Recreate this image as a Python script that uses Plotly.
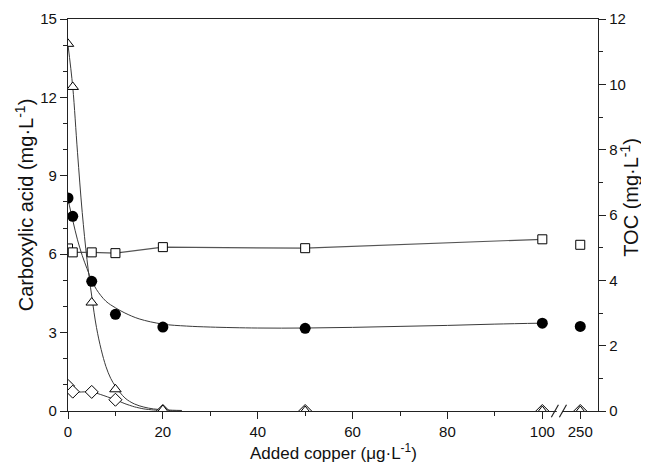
import plotly.graph_objects as go

# ---------------- data ----------------
copper = [0, 1, 5, 10, 20, 50, 100, 250]          # added copper, ug/L

# Carboxylic acids (left axis, mg/L)
acid_triangle = [14.05, 12.4, 4.15, 0.83, 0.04, 0.0, 0.0, 0.0]
acid_diamond  = [0.96, 0.74, 0.73, 0.43, 0.0, 0.0, 0.0, 0.0]
acid_square   = [6.22, 6.07, 6.07, 6.04, 6.27, 6.23, 6.57, 6.36]

# TOC (right axis, mg/L)
toc_circle = [6.52, 5.96, 3.97, 2.96, 2.57, 2.53, 2.69, 2.59]

# fitted curves
tri_fit_x = [0, 1, 2, 3, 4, 5, 6, 7, 8, 9, 10, 12, 14, 16, 18, 20, 22, 24]
tri_fit_y = [14.0, 12.4, 9.9, 7.6, 5.8, 4.4, 3.2, 2.35, 1.7, 1.25, 0.95, 0.5, 0.27, 0.15, 0.08, 0.05, 0.03, 0.02]

dia_fit_x = [0, 1, 5, 10, 12, 14, 16, 18, 20, 22, 24]
dia_fit_y = [0.96, 0.74, 0.73, 0.43, 0.28, 0.16, 0.08, 0.04, 0.02, 0.01, 0.0]

toc_fit_x = [0, 1, 2, 3, 4, 5, 6, 8, 10, 12, 15, 20, 25, 30, 40, 50, 60, 70, 80, 90, 100]
toc_fit_y = [6.48, 5.84, 5.24, 4.76, 4.36, 4.0, 3.72, 3.36, 3.16, 3.0, 2.82, 2.66, 2.6, 2.57, 2.54, 2.54, 2.56, 2.59, 2.62, 2.66, 2.69]

x_tick_labels = ["0", "20", "40", "60", "80", "100", "250"]

# ---------------- broken x-axis mapping ----------------
BREAK_AT = 100
POS_250 = 108.0
X_MAX = 111.74
BREAK_POS = 103.6


def xpos(v):
    return v if v <= BREAK_AT else POS_250


xp = [xpos(v) for v in copper]
tick_pos = [0, 20, 40, 60, 80, 100, POS_250]

LINE = "#3a3a3a"
fig = go.Figure()

# curves / lines
fig.add_trace(go.Scatter(x=tri_fit_x, y=tri_fit_y, mode="lines", line=dict(color=LINE, width=1, shape="spline"),
                         yaxis="y", hoverinfo="skip", showlegend=False))
fig.add_trace(go.Scatter(x=dia_fit_x, y=dia_fit_y, mode="lines", line=dict(color=LINE, width=1, shape="spline", smoothing=0.6),
                         yaxis="y", hoverinfo="skip", showlegend=False))
fig.add_trace(go.Scatter(x=toc_fit_x, y=toc_fit_y, mode="lines", line=dict(color=LINE, width=1, shape="spline"),
                         yaxis="y2", hoverinfo="skip", showlegend=False))
fig.add_trace(go.Scatter(x=xp[:7], y=acid_square[:7], mode="lines", line=dict(color="#555555", width=1.2),
                         yaxis="y", hoverinfo="skip", showlegend=False))

mk = dict(color="white", line=dict(color="black", width=1))
fig.add_trace(go.Scatter(x=xp, y=acid_square, mode="markers", yaxis="y", showlegend=False, cliponaxis=True,
                         marker=dict(symbol="square", size=9, **mk)))
fig.add_trace(go.Scatter(x=xp, y=acid_diamond, mode="markers", yaxis="y", showlegend=False, cliponaxis=True,
                         marker=dict(symbol="diamond", size=10, **mk)))
fig.add_trace(go.Scatter(x=xp, y=acid_triangle, mode="markers", yaxis="y", showlegend=False, cliponaxis=True,
                         marker=dict(symbol="triangle-up", size=10, **mk)))
fig.add_trace(go.Scatter(x=xp, y=toc_circle, mode="markers", yaxis="y2", showlegend=False, cliponaxis=True,
                         marker=dict(symbol="circle", size=11, color="black", line=dict(color="black", width=0))))

FONT = "Liberation Sans, Arial, sans-serif"
axis_common = dict(showgrid=False, zeroline=False, showline=True, linecolor="#222", linewidth=1.3,
                   ticks="outside", tickcolor="#222", tickwidth=1.3, ticklen=7, automargin=False,
                   tickfont=dict(family=FONT, size=15, color="#111"))
minor_common = dict(ticklen=4, ticks="outside", tickcolor="#222", tickwidth=1.3)

# the page body has an 8 px margin, so the figure is offset by 8 px
fig.update_layout(
    width=641, height=456,
    margin=dict(l=60, r=51, t=11, b=53),
    paper_bgcolor="white", plot_bgcolor="white",
    font=dict(family=FONT, color="#111"),
    xaxis=dict(range=[0, X_MAX], tickmode="array", tickvals=tick_pos, ticktext=x_tick_labels,
               mirror=True, minor=dict(tickvals=[10, 30, 50, 70, 90], **minor_common), **axis_common),
    yaxis=dict(range=[0, 15], tickmode="linear", tick0=0, dtick=3,
               minor=dict(dtick=1, **minor_common), **axis_common),
    yaxis2=dict(range=[0, 12], tickmode="linear", tick0=0, dtick=2, overlaying="y", side="right",
                minor=dict(dtick=1, **minor_common), **axis_common),
)

# axis titles
TFONT = dict(family=FONT, size=17, color="#111")
YTFONT = dict(family=FONT, size=20, color="#111")
fig.add_annotation(text="Added copper (\u03bcg\u00b7L<sup>-1</sup>)", xref="paper", yref="paper",
                   x=0.5, y=-0.105, xanchor="center", yanchor="middle", showarrow=False, font=TFONT)
fig.add_annotation(text="Carboxylic acid (mg\u00b7L<sup>-1</sup>)", xref="paper", yref="paper",
                   x=-0.083, y=0.525, xanchor="center", yanchor="middle", textangle=-90, showarrow=False, font=YTFONT)
fig.add_annotation(text="TOC (mg\u00b7L<sup>-1</sup>)", xref="paper", yref="paper",
                   x=1.06, y=0.546, xanchor="center", yanchor="middle", textangle=-90, showarrow=False, font=YTFONT)

# axis break marks "//"
gap = 0.55
fig.add_shape(type="line", xref="x", yref="paper", x0=BREAK_POS - gap, x1=BREAK_POS + gap, y0=0, y1=0,
              line=dict(color="white", width=3), layer="above")
for dx in (-0.95, 0.75):
    fig.add_shape(type="line", xref="x", yref="paper", x0=BREAK_POS + dx - 0.75, x1=BREAK_POS + dx + 0.75,
                  y0=-0.016, y1=0.016, line=dict(color="#222", width=1.2), layer="above")

fig.write_html("out.html")
